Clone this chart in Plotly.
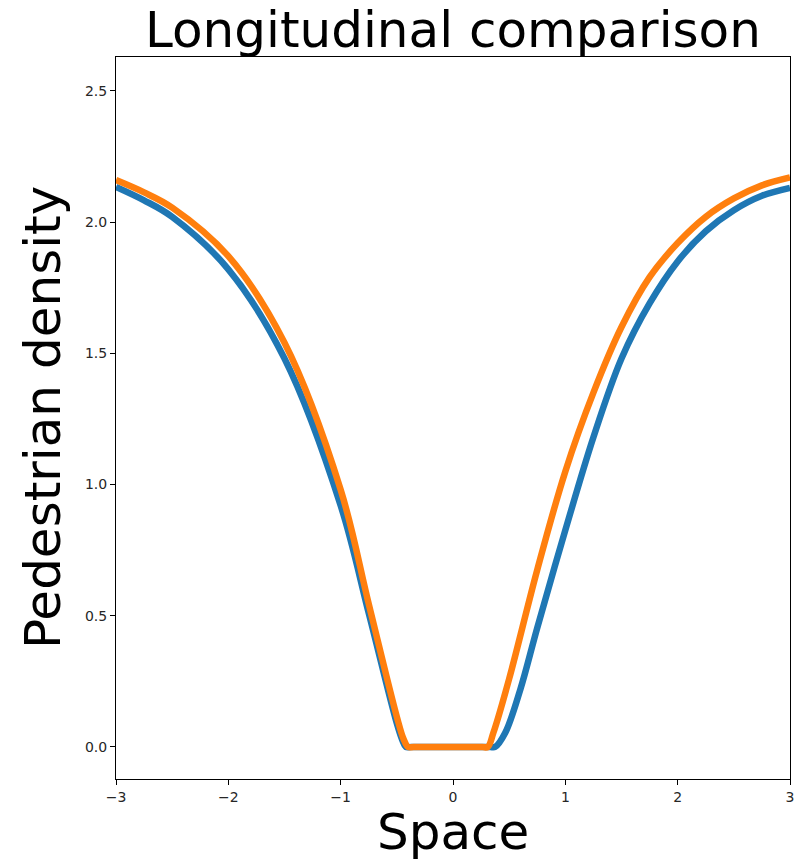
import plotly.graph_objects as go

# Blue series (first curve)
blue_x = [-3.0, -2.75, -2.5, -2.0, -1.5, -1.0, -0.75, -0.5, -0.45, -0.42, -0.37, 0.0, 0.33,
          0.375, 0.464, 0.6, 0.75, 1.0, 1.25, 1.5, 1.75, 2.0, 2.25, 2.5, 2.75, 3.0]
blue_y = [2.134, 2.083, 2.02, 1.82, 1.48, 0.92, 0.51, 0.09, 0.025, 0.0, 0.0, 0.0, 0.0,
          0.0, 0.053, 0.22, 0.454, 0.826, 1.18, 1.48, 1.69, 1.85, 1.965, 2.045, 2.10, 2.13]

# Orange series (second curve)
orange_x = [-3.0, -2.75, -2.5, -2.0, -1.5, -1.0, -0.75, -0.5, -0.44, -0.40, -0.35, 0.0, 0.26,
            0.31, 0.36, 0.5, 0.75, 1.0, 1.25, 1.5, 1.75, 2.0, 2.25, 2.5, 2.75, 3.0]
orange_y = [2.16, 2.113, 2.055, 1.87, 1.54, 0.98, 0.545, 0.115, 0.03, 0.0, 0.0, 0.0, 0.0,
            0.0, 0.055, 0.26, 0.675, 1.05, 1.35, 1.60, 1.79, 1.92, 2.02, 2.09, 2.14, 2.17]

x_ticks = [-3, -2, -1, 0, 1, 2, 3]
x_tick_text = ["\u22123", "\u22122", "\u22121", "0", "1", "2", "3"]
y_ticks = [0.0, 0.5, 1.0, 1.5, 2.0, 2.5]

FONT = "DejaVu Sans"

fig = go.Figure()
fig.add_trace(go.Scatter(x=blue_x, y=blue_y, mode="lines",
                         line=dict(color="#1f77b4", width=6.5, shape="spline", smoothing=1.0),
                         showlegend=False))
fig.add_trace(go.Scatter(x=orange_x, y=orange_y, mode="lines",
                         line=dict(color="#ff7f0e", width=6.5, shape="spline", smoothing=1.0),
                         showlegend=False))

axis_common = dict(showgrid=False, zeroline=False, showline=True, mirror=True,
                   linecolor="#000000", linewidth=1, ticks="outside", ticklen=5,
                   tickwidth=1, tickcolor="#000000", automargin=False,
                   tickfont=dict(family=FONT, size=14, color="#262626"))

fig.update_layout(
    width=795, height=861,
    margin=dict(l=116, r=5, t=57, b=82),
    paper_bgcolor="white", plot_bgcolor="white",
    font=dict(family=FONT, color="#000000"),
    xaxis=dict(range=[-3, 3], tickvals=x_ticks, ticktext=x_tick_text, **axis_common),
    yaxis=dict(range=[-0.122, 2.629], tickvals=y_ticks, tickformat=".1f", **axis_common),
    annotations=[
        dict(text="Longitudinal comparison", x=0.5, y=1.0, xref="paper", yref="paper",
             xanchor="center", yanchor="bottom", yshift=-4, showarrow=False,
             font=dict(family=FONT, size=50, color="#000000")),
        dict(text="Space", x=0.5, y=0, xref="paper", yref="paper",
             xanchor="center", yanchor="top", yshift=-22, showarrow=False,
             font=dict(family=FONT, size=50, color="#000000")),
        dict(text="Pedestrian density", x=0, y=0.5, xref="paper", yref="paper",
             xanchor="right", yanchor="middle", xshift=-42, textangle=-90, showarrow=False,
             font=dict(family=FONT, size=50, color="#000000")),
    ],
)

fig.write_html(
    "out.html",
    config={"displayModeBar": False},
    post_script="document.body.style.margin='0';document.body.style.overflow='hidden';",
)
